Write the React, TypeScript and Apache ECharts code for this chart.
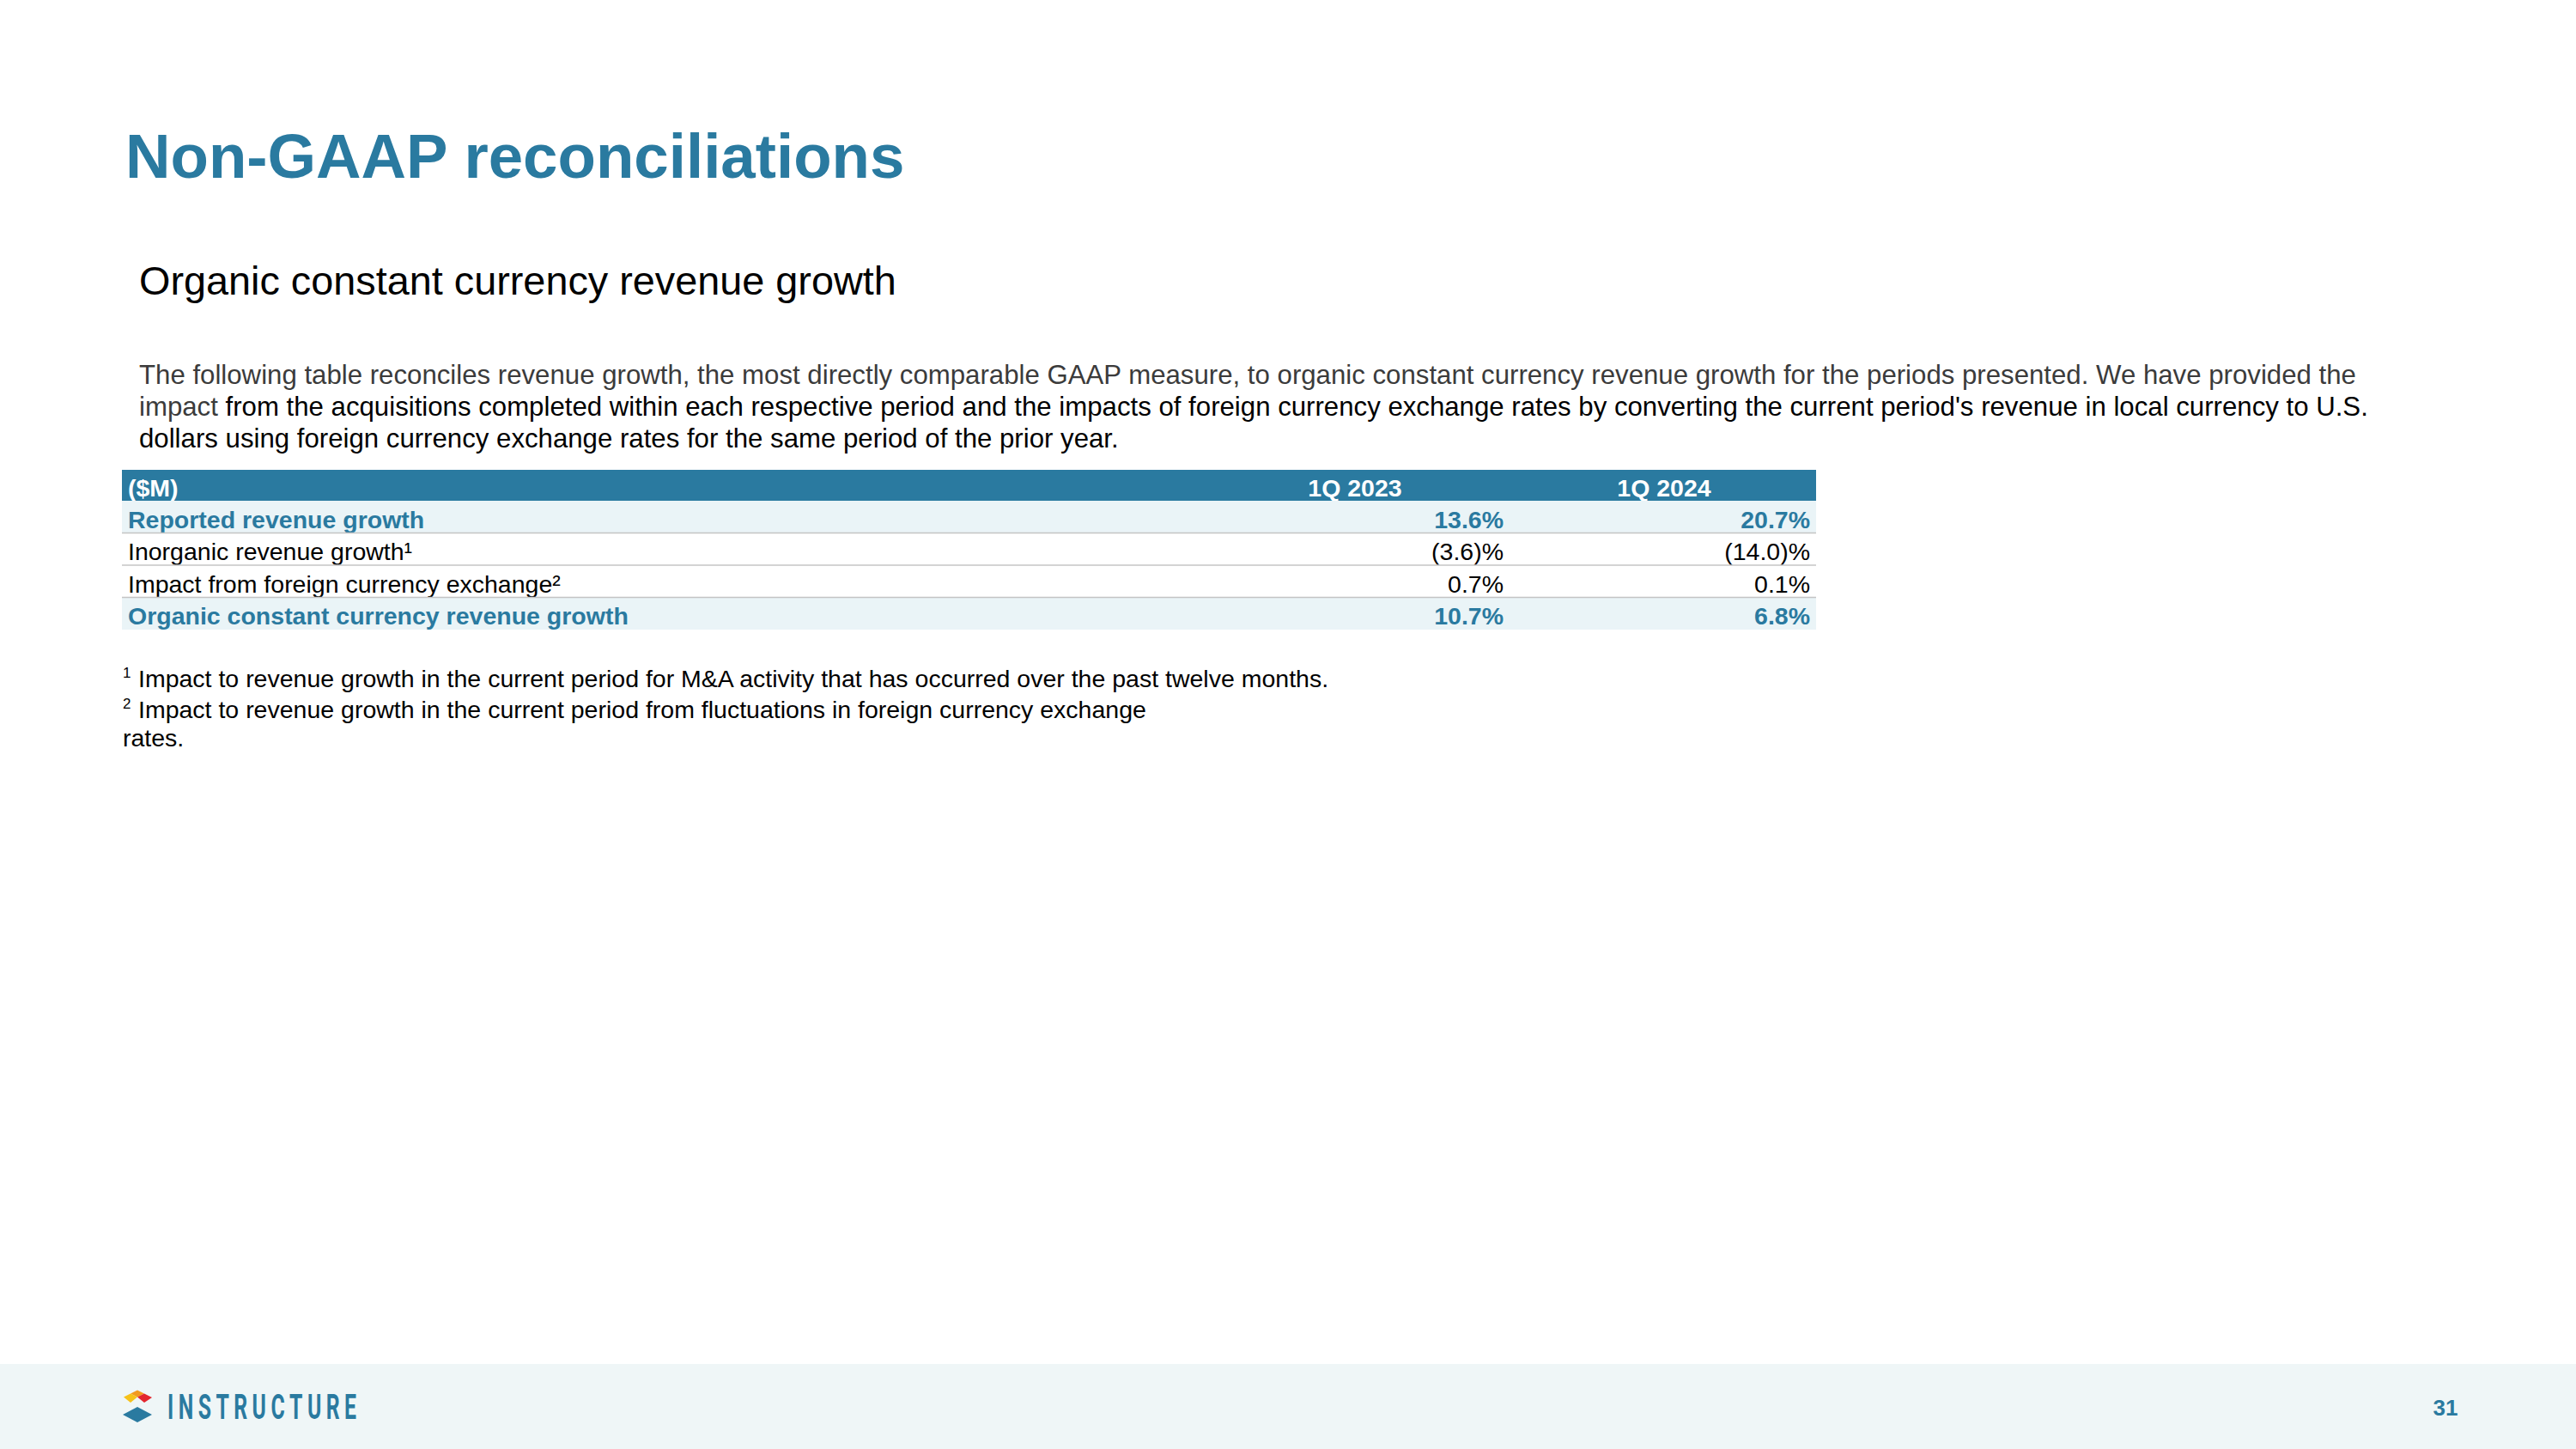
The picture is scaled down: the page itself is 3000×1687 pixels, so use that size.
import React, { useEffect, useRef } from "react";
import * as echarts from "echarts";

// ---- Data ----
const titleText = "Non-GAAP reconciliations";
const subtitleText = "Organic constant currency revenue growth";
const paragraphLine1 =
  "The following table reconciles revenue growth, the most directly comparable GAAP measure, to organic constant currency revenue growth for the periods presented. We have provided the";
const paragraphLine2a = "impact";
const paragraphLine2b =
  " from the acquisitions completed within each respective period and the impacts of foreign currency exchange rates by converting the current period's revenue in local currency to U.S.";
const paragraphLine3 = "dollars using foreign currency exchange rates for the same period of the prior year.";
const headerLabel = "($M)";
const periods = ["1Q 2023", "1Q 2024"];
const rowLabels = [
  "Reported revenue growth",
  "Inorganic revenue growth¹",
  "Impact from foreign currency exchange²",
  "Organic constant currency revenue growth",
];
const values1Q2023 = [13.6, -3.6, 0.7, 10.7];
const values1Q2024 = [20.7, -14.0, 0.1, 6.8];
const highlightRows = [true, false, false, true];
const footnoteMarks = ["1", "2"];
const footnoteTexts = [
  "Impact to revenue growth in the current period for M&A activity that has occurred over the past twelve months.",
  "Impact to revenue growth in the current period from fluctuations in foreign currency exchange",
];
const footnoteWrap = "rates.";
const brandName = "INSTRUCTURE";
const pageNumber = "31";

const FONT = "'Liberation Sans', Arial, Helvetica, sans-serif";
const BLUE = "#2A7AA0";
const LIGHT = "#EAF4F7";

const fmt = (v: number) => (v < 0 ? `(${Math.abs(v).toFixed(1)})%` : `${v.toFixed(1)}%`);

function txt(text: string, x: number, y: number, opts: any = {}) {
  const align = opts.align || "left";
  return {
    type: "text",
    x,
    y,
    scaleX: opts.scaleX || 1,
    silent: true,
    style: {
      text,
      x: 0,
      y: 0,
      fill: opts.fill || "#000",
      fontSize: opts.fontSize || 28,
      fontWeight: opts.fontWeight || "normal",
      fontFamily: opts.fontFamily || FONT,
      align,
      textAlign: align,
      verticalAlign: "middle",
      textVerticalAlign: "middle",
      rich: opts.rich,
    },
  };
}

export default function App() {
  const ref = useRef<HTMLDivElement>(null);
  useEffect(() => {
    if (!ref.current) return;
    const chart = echarts.init(ref.current, undefined, { renderer: "svg" });
    const els: any[] = [];

    // Title & subtitle
    els.push(txt(titleText, 146, 181, { fontSize: 72.7, fontWeight: "bold", fill: BLUE }));
    els.push(txt(subtitleText, 162, 327, { fontSize: 46.8, fill: "#000" }));

    // Paragraph
    const pSize = 31.2;
    els.push(txt(paragraphLine1, 162, 436, { fontSize: pSize, fill: "#3B3B3B" }));
    els.push(
      txt(`{g|${paragraphLine2a}}{k|${paragraphLine2b}}`, 162, 473, {
        fontSize: pSize,
        rich: {
          g: { fill: "#3B3B3B", fontSize: pSize, fontFamily: FONT },
          k: { fill: "#000", fontSize: pSize, fontFamily: FONT },
        },
      })
    );
    els.push(txt(paragraphLine3, 162, 510, { fontSize: pSize, fill: "#000" }));

    // Table
    const tLeft = 142;
    const tRight = 2115;
    const headTop = 547;
    const headH = 36;
    const rowH = 37.5;
    const colRight = [1751, 2108];
    const colCenter = [1578, 1938];
    const tSize = 28.5;
    const dy = 3;
    els.push({
      type: "rect",
      silent: true,
      shape: { x: tLeft, y: headTop, width: tRight - tLeft, height: headH },
      style: { fill: BLUE },
    });
    els.push(txt(headerLabel, 149, headTop + headH / 2 + dy, { fontSize: tSize, fontWeight: "bold", fill: "#fff" }));
    periods.forEach((p, i) => {
      els.push(
        txt(p, colCenter[i], headTop + headH / 2 + dy, { fontSize: tSize, fontWeight: "bold", fill: "#fff", align: "center" })
      );
    });
    const rowTop0 = headTop + headH;
    rowLabels.forEach((label, r) => {
      const top = rowTop0 + r * rowH;
      const hl = highlightRows[r];
      if (hl) {
        els.push({
          type: "rect",
          silent: true,
          shape: { x: tLeft, y: top, width: tRight - tLeft, height: rowH },
          style: { fill: LIGHT },
        });
      }
      if (r > 0) {
        els.push({
          type: "line",
          silent: true,
          shape: { x1: tLeft, y1: top, x2: tRight, y2: top },
          style: { stroke: "#C4C4C4", lineWidth: 1.5 },
        });
      }
      const cy = top + rowH / 2 + dy;
      const o = { fontSize: tSize, fontWeight: hl ? "bold" : "normal", fill: hl ? BLUE : "#000" };
      els.push(txt(label, 149, cy, o));
      els.push(txt(fmt(values1Q2023[r]), colRight[0], cy, { ...o, align: "right" }));
      els.push(txt(fmt(values1Q2024[r]), colRight[1], cy, { ...o, align: "right" }));
    });

    // Footnotes
    const fSize = 28.5;
    const fY = [790, 826];
    footnoteTexts.forEach((t, i) => {
      els.push(txt(footnoteMarks[i], 143, fY[i] - 7, { fontSize: 17 }));
      els.push(txt(t, 161, fY[i], { fontSize: fSize }));
    });
    els.push(txt(footnoteWrap, 143, 859, { fontSize: fSize }));

    // Footer band
    els.push({
      type: "rect",
      silent: true,
      shape: { x: 0, y: 1588, width: 3000, height: 99 },
      style: { fill: "#EFF6F7" },
    });
    // Logo icon
    const poly = (pts: number[][], fill: string) => ({
      type: "polygon",
      silent: true,
      shape: { points: pts },
      style: { fill },
    });
    els.push(poly([[152, 1622.5], [160, 1618.5], [168, 1622.5], [160, 1626.5]], "#F29A1F"));
    els.push(poly([[144, 1626.5], [152, 1622.5], [160, 1626.5], [152, 1633]], "#F6C21A"));
    els.push(poly([[160, 1626.5], [168, 1622.5], [177, 1627], [168, 1633]], "#E3262E"));
    els.push(poly([[143, 1647], [160, 1638], [177, 1647], [160, 1656]], BLUE));

    // Brand name, spread letters
    const canvas = document.createElement("canvas");
    const ctx = canvas.getContext("2d")!;
    const bSize = 40;
    const bFont = "Roboto, 'DejaVu Sans', sans-serif";
    ctx.font = `bold ${bSize}px ${bFont}`;
    const sx = 0.62;
    const letters = brandName.split("");
    const widths = letters.map((c) => ctx.measureText(c).width * sx);
    const totalW = 220;
    const gap = (totalW - widths.reduce((a, b) => a + b, 0)) / (letters.length - 1);
    let bx = 195;
    letters.forEach((c, i) => {
      els.push(txt(c, bx, 1638, { fontSize: bSize, fontWeight: "bold", fill: BLUE, fontFamily: bFont, scaleX: sx }));
      bx += widths[i] + gap;
    });

    // Page number
    els.push(txt(pageNumber, 2848, 1639, { fontSize: 26, fontWeight: "bold", fill: BLUE, align: "center" }));

    chart.setOption({
      animation: false,
      backgroundColor: "#ffffff",
      graphic: { elements: els },
    });
    return () => chart.dispose();
  }, []);
  return (
    <div
      ref={ref}
      style={{ position: "fixed", left: 0, top: 0, width: 3000, height: 1687, background: "#fff" }}
    />
  );
}
